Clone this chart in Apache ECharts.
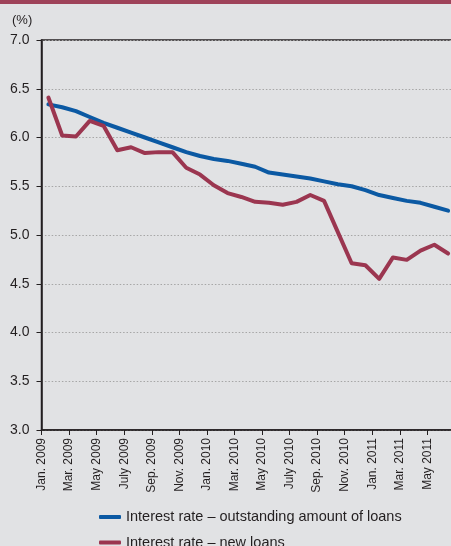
<!DOCTYPE html>
<html>
<head>
<meta charset="utf-8">
<script src="https://cdn.jsdelivr.net/npm/echarts@6/dist/echarts.min.js"></script>
<style>
  html, body { margin: 0; padding: 0; background: #e1e2e4; }
  #myEchartNode { width: 451px; height: 546px; }
</style>
</head>
<body>
<div id="myEchartNode"></div>
<script>
; (function () {

    var months = [
        'Jan. 2009', 'Feb. 2009', 'Mar. 2009', 'Apr. 2009', 'May 2009', 'June 2009',
        'July 2009', 'Aug. 2009', 'Sep. 2009', 'Oct. 2009', 'Nov. 2009', 'Dec. 2009',
        'Jan. 2010', 'Feb. 2010', 'Mar. 2010', 'Apr. 2010', 'May 2010', 'June 2010',
        'July 2010', 'Aug. 2010', 'Sep. 2010', 'Oct. 2010', 'Nov. 2010', 'Dec. 2010',
        'Jan. 2011', 'Feb. 2011', 'Mar. 2011', 'Apr. 2011', 'May 2011', 'June 2011'
    ];
    // 未偿贷款利率
    var outstanding = [6.34, 6.31, 6.27, 6.21, 6.15, 6.10, 6.05, 6.00, 5.95, 5.90,
        5.85, 5.81, 5.78, 5.76, 5.73, 5.70, 5.64, 5.62, 5.60, 5.58,
        5.55, 5.52, 5.50, 5.46, 5.41, 5.38, 5.35, 5.33, 5.29, 5.25];
    // 新贷款利率
    var newLoans = [6.41, 6.02, 6.01, 6.17, 6.12, 5.87, 5.90, 5.84, 5.85, 5.85,
        5.69, 5.62, 5.51, 5.43, 5.39, 5.34, 5.33, 5.31, 5.34, 5.41,
        5.35, 5.03, 4.71, 4.69, 4.55, 4.77, 4.745, 4.84, 4.90, 4.81];
    var seriesNames = ['Interest rate \u2013 outstanding amount of loans', 'Interest rate \u2013 new loans'];

    var textColor = '#231f20';
    var narrow = '"Liberation Sans Narrow", "Liberation Sans", Arial, sans-serif';

    function legendFor(name, top) {
        return {
            data: [name],
            orient: 'vertical',
            left: 94,
            top: top,
            itemWidth: 22,
            itemHeight: 4,
            icon: 'roundRect',
            textStyle: {
                color: textColor,
                fontSize: 14.5,
                lineHeight: 16,
                fontFamily: '"Liberation Sans", Arial, sans-serif'
            }
        };
    }

    var myEchartObj = echarts.init(document.getElementById('myEchartNode'));
    var option = {
        backgroundColor: '#e1e2e4',
        animation: false,
        graphic: [
            {
                type: 'rect',
                left: 0, top: 0,
                shape: { width: 451, height: 4 },
                style: { fill: '#9e4259' }
            },
            {
                type: 'text',
                left: 12, top: 14,
                style: { text: '(%)', fill: textColor, font: '13px ' + narrow }
            }
        ],
        legend: [
            legendFor(seriesNames[0], 504),
            legendFor(seriesNames[1], 529.5)
        ],
        grid: {
            left: 41.5,
            top: 40,
            right: -4,
            bottom: 116,
            outerBoundsMode: 'none',
            show: true,
            borderColor: textColor,
            borderWidth: 1.5,
            backgroundColor: 'transparent'
        },
        xAxis: [
            {
                type: 'category',
                data: months,
                boundaryGap: true,
                axisLabel: { show: false },
                axisTick: { show: false },
                axisLine: { lineStyle: { color: textColor, width: 1.5 } }
            },
            {
                type: 'value',
                min: 0,
                max: months.length,
                interval: 2,
                position: 'bottom',
                axisLine: { show: false },
                splitLine: { show: false },
                axisTick: {
                    show: true,
                    length: 5,
                    lineStyle: { color: textColor, width: 1 }
                },
                axisLabel: {
                    rotate: 90,
                    margin: 8,
                    color: textColor,
                    fontSize: 12,
                    fontFamily: narrow,
                    showMaxLabel: false,
                    formatter: function (v) {
                        return months[v] || '';
                    }
                }
            }
        ],
        yAxis: {
            type: 'value',
            min: 3,
            max: 7,
            interval: 0.5,
            axisLine: { show: true, lineStyle: { color: textColor, width: 1.5 } },
            axisTick: { show: true, length: 5, lineStyle: { color: textColor, width: 1 } },
            axisLabel: {
                margin: 12,
                color: textColor,
                fontSize: 14,
                fontFamily: narrow,
                formatter: function (v) { return v.toFixed(1); }
            },
            splitLine: {
                show: true,
                lineStyle: { color: '#a6a6a6', type: [1.5, 1.9], width: 1 }
            }
        },
        series: [
            {
                name: seriesNames[0],
                type: 'line',
                xAxisIndex: 0,
                data: outstanding,
                symbol: 'none',
                itemStyle: { color: '#0b59a3' },
                lineStyle: { color: '#0b59a3', width: 4, join: 'round', cap: 'round' }
            },
            {
                name: seriesNames[1],
                type: 'line',
                xAxisIndex: 0,
                data: newLoans,
                symbol: 'none',
                itemStyle: { color: '#9b3650' },
                lineStyle: { color: '#9b3650', width: 4, join: 'round', cap: 'round' }
            }
        ]
    };

    myEchartObj.setOption(option);
})();
</script>
</body>
</html>
